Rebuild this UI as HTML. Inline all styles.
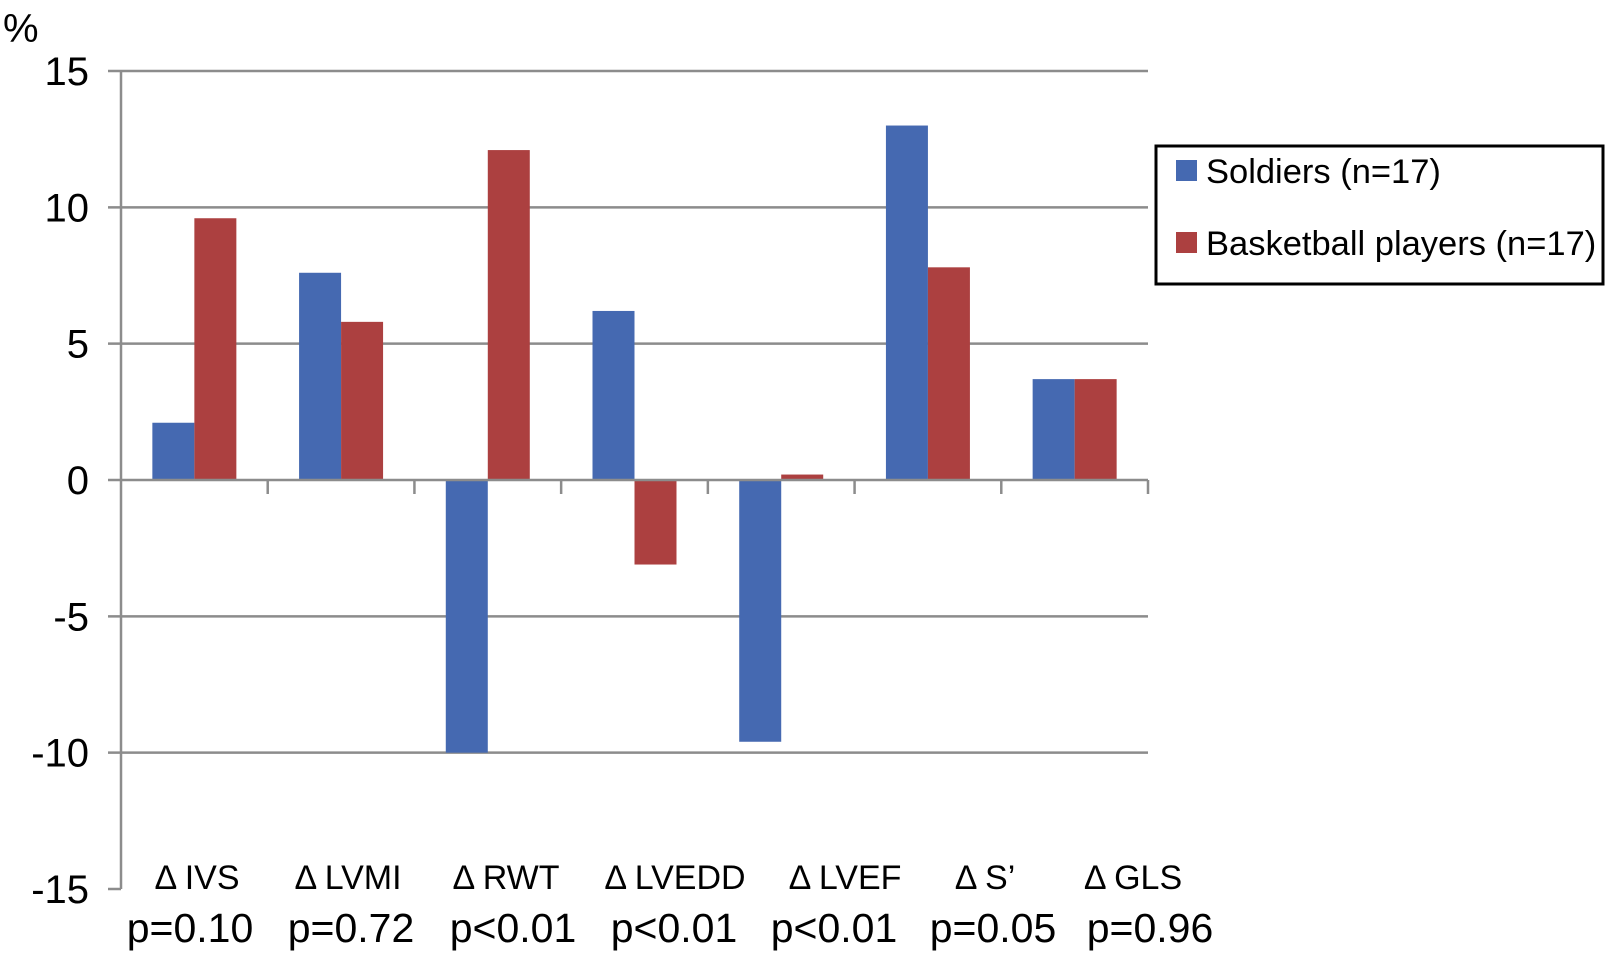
<!DOCTYPE html>
<html><head><meta charset="utf-8"><style>
body{margin:0;background:#fff;}
svg{display:block;font-family:"Liberation Sans",sans-serif;}
</style></head><body>
<svg id="chart" width="1605" height="957" viewBox="0 0 1605 957" xmlns="http://www.w3.org/2000/svg">
<text x="3" y="42" font-size="40">%</text>
<g id="grid"></g><g id="bars"></g><g id="axes"></g><g id="labels"></g>
<g>
<rect x="1156" y="146" width="447" height="138" fill="#fff" stroke="#000" stroke-width="3"/>
<rect x="1176" y="160" width="21" height="21" fill="#4569b1"/>
<text x="1206" y="183" font-size="34.5">Soldiers (n=17)</text>
<rect x="1176" y="232" width="21" height="21" fill="#ac4040"/>
<text x="1206" y="255" font-size="34.5">Basketball players (n=17)</text>
</g>
</svg>
<script>
const categories = ["Δ IVS","Δ LVMI","Δ RWT","Δ LVEDD","Δ  LVEF","Δ S’","Δ GLS"];
const pValues = ["p=0.10","p=0.72","p<0.01","p<0.01","p<0.01","p=0.05","p=0.96"];
const soldiers = [2.1, 7.6, -10, 6.2, -9.6, 13, 3.7];
const basketball = [9.6, 5.8, 12.1, -3.1, 0.2, 7.8, 3.7];
const yTicks = [15, 10, 5, 0, -5, -10, -15];

const NS="http://www.w3.org/2000/svg";
const x0=121, x1=1148, yTop=71, yBot=889, yMin=-15, yMax=15;
const catW=(x1-x0)/categories.length;
const y=v=>yTop+(yMax-v)/(yMax-yMin)*(yBot-yTop);
function mk(tag,attrs,parent){const e=document.createElementNS(NS,tag);for(const k in attrs)e.setAttribute(k,attrs[k]);document.getElementById(parent).appendChild(e);return e;}

yTicks.forEach(t=>{
  if(t!==0 && t!==-15){const g=mk('line',{x1:x0-13,x2:x1,y1:y(t),y2:y(t),stroke:'#8c8c8c','stroke-width':2.5},'grid');
  
  }
  const tx=mk('text',{x:89,y:y(t)+14,'font-size':40,'text-anchor':'end'},'labels');
  tx.textContent=t;
  
  
});
const bw=42, off=(catW-2*bw)/2;
soldiers.forEach((v,i)=>{
  const xs=x0+catW*i+off;
  const r=mk('rect',{x:xs,y:Math.min(y(v),y(0)),width:bw,height:Math.abs(y(v)-y(0)),fill:'#4569b1'},'bars');
  
  
  const b=basketball[i];
  const r2=mk('rect',{x:xs+bw,y:Math.min(y(b),y(0)),width:bw,height:Math.abs(y(b)-y(0)),fill:'#ac4040'},'bars');
  
  
});
const ax=mk('line',{x1:x0,x2:x0,y1:yTop,y2:yBot,stroke:'#8c8c8c','stroke-width':2.5},'axes');


const ax0=mk('line',{x1:x0-13,x2:x1,y1:y(0),y2:y(0),stroke:'#8c8c8c','stroke-width':2.5},'axes');


const axb=mk('line',{x1:x0-13,x2:x0,y1:yBot,y2:yBot,stroke:'#8c8c8c','stroke-width':2.5},'axes');


for(let i=1;i<=categories.length;i++){
  const tk=mk('line',{x1:x0+catW*i,x2:x0+catW*i,y1:y(0),y2:y(0)+14,stroke:'#8c8c8c','stroke-width':2.5},'axes');
  
  
}
const catX=[197,348,506,675,845,985,1133];
const pX=[190,351,513,674,834,993,1150];
categories.forEach((c,i)=>{
  const t=mk('text',{x:catX[i],y:889,'font-size':34,'text-anchor':'middle','xml:space':'preserve'},'labels');
  t.textContent=c;
  
  
  const p=mk('text',{x:pX[i],y:942,'font-size':41,'text-anchor':'middle'},'labels');
  p.textContent=pValues[i];
  
  
});
</script>
</body></html>
